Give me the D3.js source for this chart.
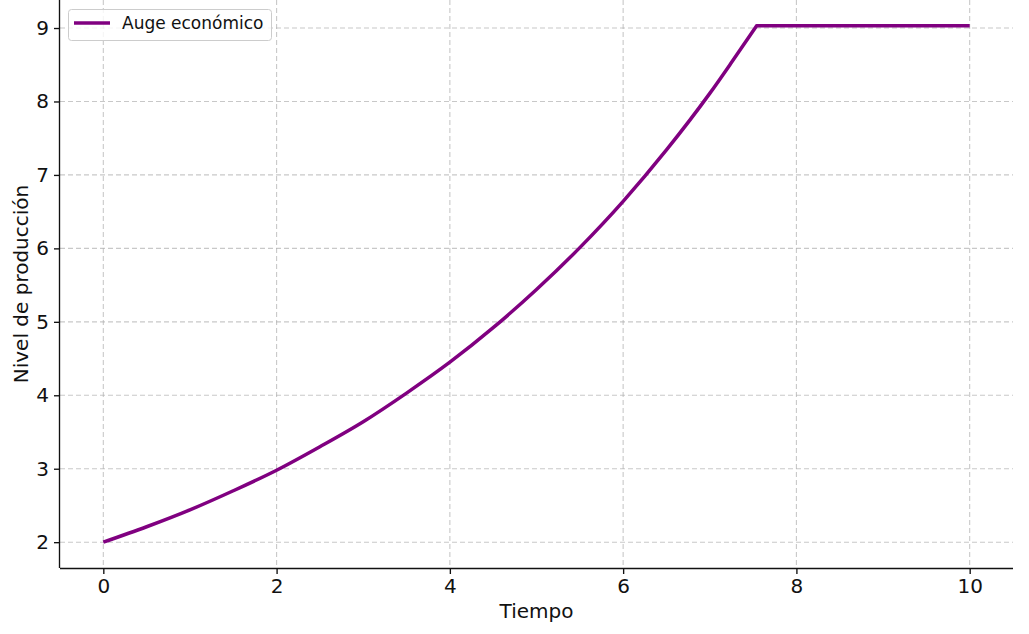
<!DOCTYPE html>
<html>
<head>
<meta charset="utf-8">
<title>Auge económico</title>
<style>
body { margin: 0; background: #fff; }
svg text { font-family: "DejaVu Sans", sans-serif; fill: #111; }
.grid line { stroke: #b0b0b0; stroke-opacity: .7; stroke-width: 1.1; stroke-dasharray: 5,3; }
.axis path, .axis line { stroke: #111; stroke-width: 1.35; }
.axis text { font-size: 20px; }
</style>
</head>
<body>
<script src="https://d3js.org/d3.v7.min.js"></script>
<script>

// values
var tiempo = [0, 0.5, 1, 1.5, 2, 2.5, 3, 3.5, 4, 4.5, 5, 5.5, 6, 6.5, 7, 7.25, 7.54, 10];
var nivel  = [2.00, 2.21, 2.44, 2.70, 2.98, 3.30, 3.64, 4.03, 4.45, 4.92, 5.44, 6.01, 6.64, 7.34, 8.11, 8.53, 9.03, 9.03];
var xTicks = [0, 2, 4, 6, 8, 10];
var yTicks = [2, 3, 4, 5, 6, 7, 8, 9];
var serieNombre = "Auge económico";

var width = 1029, height = 634;
var mLeft = 60, mRight = 1013, mTop = 0, mBottom = 568;
var color = "#800080";

var x = d3.scaleLinear().domain([-0.5, 10.5]).range([mLeft, mRight]);
var y = d3.scaleLinear().domain([1.6485, 9.3815]).range([mBottom, mTop]);

var svg = d3.select("body").append("svg")
    .attr("width", width)
    .attr("height", height);

// grid
var grid = svg.append("g").attr("class", "grid");
grid.selectAll("line.v").data(xTicks).enter().append("line")
    .attr("x1", d => x(d)).attr("x2", d => x(d))
    .attr("y1", mTop).attr("y2", mBottom);
grid.selectAll("line.h").data(yTicks).enter().append("line")
    .attr("x1", mLeft).attr("x2", mRight)
    .attr("y1", d => y(d)).attr("y2", d => y(d));

// axes
var xAxis = svg.append("g").attr("class", "axis")
    .attr("transform", "translate(0," + mBottom + ")")
    .call(d3.axisBottom(x).tickValues(xTicks).tickSize(6).tickPadding(5).tickFormat(d3.format("d")));
xAxis.select(".domain").attr("d", "M" + mLeft + ",0.5H" + mRight);

var yAxis = svg.append("g").attr("class", "axis")
    .attr("transform", "translate(" + mLeft + ",0)")
    .call(d3.axisLeft(y).tickValues(yTicks).tickSize(6).tickPadding(5).tickFormat(d3.format("d")));
yAxis.select(".domain").attr("d", "M-0.5," + mTop + "V" + mBottom);

// line: smooth rise up to the cap, then straight plateau
var pts = tiempo.map((t, i) => [t, nivel[i]]);
var capIdx = nivel.indexOf(d3.max(nivel));

var rise = d3.line()
    .x(d => x(d[0]))
    .y(d => y(d[1]))
    .curve(d3.curveMonotoneX);
var flat = d3.line()
    .x(d => x(d[0]))
    .y(d => y(d[1]));

svg.append("path")
    .attr("fill", "none")
    .attr("stroke", color)
    .attr("stroke-width", 3.5)
    .attr("stroke-linejoin", "round")
    .attr("d", rise(pts.slice(0, capIdx + 1)) + flat(pts.slice(capIdx)).replace(/^M[^L]*/, ""));

// labels
svg.append("text")
    .attr("x", (mLeft + mRight) / 2)
    .attr("y", 618)
    .attr("text-anchor", "middle")
    .style("font-size", "20px")
    .text("Tiempo");

svg.append("text")
    .attr("transform", "translate(28," + ((mTop + mBottom) / 2) + ") rotate(-90)")
    .attr("text-anchor", "middle")
    .style("font-size", "20px")
    .text("Nivel de producción");

// legend
var legend = svg.append("g").attr("transform", "translate(68,9)");
legend.append("rect")
    .attr("x", 0.5).attr("y", 0.5)
    .attr("width", 203).attr("height", 31)
    .attr("rx", 3)
    .attr("fill", "#fff").attr("fill-opacity", .8)
    .attr("stroke", "#ccc");
legend.append("line")
    .attr("x1", 6).attr("x2", 42)
    .attr("y1", 14).attr("y2", 14)
    .attr("stroke", color).attr("stroke-width", 3.5);
legend.append("text")
    .attr("x", 54).attr("y", 20)
    .style("font-size", "17px")
    .text(serieNombre);

</script>
</body>
</html>
